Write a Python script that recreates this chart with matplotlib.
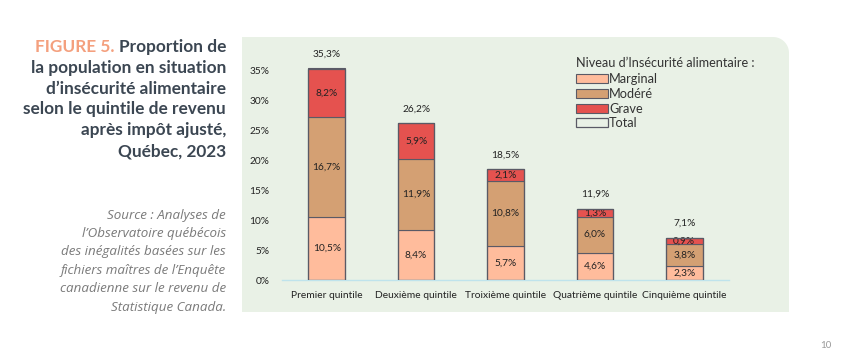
import matplotlib.pyplot as plt
import numpy as np
from matplotlib.path import Path
from matplotlib.patches import PathPatch

# Data
quintiles = ["Premier quintile", "Deuxième quintile", "Troixième quintile",
             "Quatrième quintile", "Cinquième quintile"]
marginal = [10.5, 8.4, 5.7, 4.6, 2.3]
modere = [16.7, 11.9, 10.8, 6.0, 3.8]
grave = [8.2, 5.9, 2.1, 1.3, 0.9]
total = [35.3, 26.2, 18.5, 11.9, 7.1]
yticks = [0, 5, 10, 15, 20, 25, 30, 35]

series_names = ["Marginal", "Modéré", "Grave"]
series_colors = ["#ffbc9c", "#d4a073", "#e5524f"]
edge = "#5a5a66"

W, H = 853, 350
fig = plt.figure(figsize=(W / 100, H / 100), dpi=100)
fig.patch.set_facecolor("white")

# light green panel, top-right corner rounded
x0, x1, y0, y1, r = 242 / W, 789 / W, 1 - 312 / H, 1 - 37 / H, 16
rx, ry = r / W, r / H
t = np.linspace(0, np.pi / 2, 20)
verts = [(x0, y0), (x1, y0), (x1, y1 - ry)]
verts += [(x1 - rx + rx * np.cos(a), y1 - ry + ry * np.sin(a)) for a in t]
verts += [(x0, y1), (x0, y0)]
panel = PathPatch(Path(verts), facecolor="#e9f1e6", edgecolor="none",
                  transform=fig.transFigure, zorder=-5)
fig.patches.append(panel)

ax = fig.add_axes([282 / W, 70 / H, 447 / W, 239 / H])
ax.set_facecolor("none")

x = np.arange(len(quintiles))
bw = 0.41
bottom = np.zeros(len(quintiles))
handles = []
for vals, name, col in zip([marginal, modere, grave], series_names, series_colors):
    b = ax.bar(x, vals, bw, bottom=bottom, color=col, edgecolor=edge,
               linewidth=0.8, label=name, zorder=2)
    handles.append(b)
    for xi, v, bt in zip(x, vals, bottom):
        ax.text(xi, bt + v / 2, f"{v:.1f}%".replace(".", ","), ha="center",
                va="center", fontsize=7.3, family="Lato", color="#222222", zorder=3)
    bottom = bottom + np.array(vals)

tb = ax.bar(x, total, bw, facecolor="none", edgecolor=edge, linewidth=0.9,
            label="Total", zorder=3)
handles.append(tb)
for xi, v in zip(x, total):
    ax.annotate(f"{v:.1f}%".replace(".", ","), xy=(xi, v), xytext=(0, 10.5),
                textcoords="offset points", ha="center", va="center",
                fontsize=7.3, family="Lato", color="#222222")

ax.set_xlim(-0.5, 4.5)
ax.set_ylim(0, 40)
ax.set_yticks(yticks)
ax.set_yticklabels([f"{v}%" for v in yticks], family="Lato", fontsize=7.3,
                   color="#222222")
ax.set_xticks(x)
ax.set_xticklabels(quintiles, family="Lato", fontsize=7.4, color="#222222")
ax.tick_params(length=0)
ax.tick_params(axis="y", pad=9)
ax.tick_params(axis="x", pad=8)
for s in ["top", "right", "left"]:
    ax.spines[s].set_visible(False)
ax.spines["bottom"].set_color("#bfe3ec")
ax.spines["bottom"].set_linewidth(1)

leg = ax.legend(handles=handles, loc="upper left", bbox_to_anchor=(0.657, 0.935),
                frameon=False, title="Niveau d’Insécurité alimentaire :",
                prop={"family": "Lato", "size": 9.2}, handlelength=2.5,
                handleheight=0.7, handletextpad=0.1, labelspacing=0.2,
                borderpad=0, borderaxespad=0, alignment="left")
leg._legend_box.sep = 3.5
leg.get_title().set_fontfamily("Lato")
leg.get_title().set_fontsize(9.1)
leg.get_title().set_color("#333333")
for txt in leg.get_texts():
    txt.set_color("#333333")

# title on the left
title_lines = ["Proportion de", "la population en situation",
               "d’insécurité alimentaire", "selon le quintile de revenu",
               "après impôt ajusté,", "Québec, 2023"]
tx = 226 / W
first = None
for i, line in enumerate(title_lines):
    tt = fig.text(tx, 1 - (47 + i * 20.8) / H, line, ha="right", va="center",
                  fontsize=12.4, family="Lato", fontweight="bold", color="#3b4652")
    if i == 0:
        first = tt
ax.annotate("FIGURE 5. ", xy=(0, 0), xycoords=first, ha="right", va="bottom",
            fontsize=12.4, family="Lato", fontweight="bold", color="#f4a07e",
            annotation_clip=False)

source_lines = ["Source : Analyses de", "l’Observatoire québécois",
                "des inégalités basées sur les", "fichiers maîtres de l’Enquête",
                "canadienne sur le revenu de", "Statistique Canada."]
for i, line in enumerate(source_lines):
    fig.text(tx, 1 - (215 + i * 18.5) / H, line, ha="right", va="center",
             fontsize=9.6, family="Open Sans", style="italic", color="#7a7a7a")

fig.text(820 / W, 0.5 / H, "10", ha="left", va="bottom", fontsize=7,
         family="Lato", color="#999999")

fig.savefig("out.png", dpi=100)
